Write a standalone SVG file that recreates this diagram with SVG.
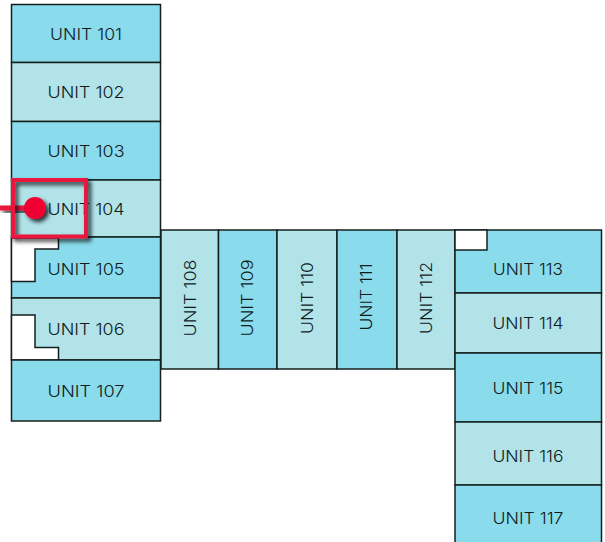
<svg xmlns="http://www.w3.org/2000/svg" width="605" height="542" viewBox="0 0 605 542">
<style>
.a{fill:#8adcec}.b{fill:#b1e3e9}
.u{stroke:#14201f;stroke-width:1.5}
.n{fill:#fff;stroke:#14201f;stroke-width:1.5}
text{font-family:"Inter","Liberation Sans",sans-serif;font-size:16.5px;font-weight:300;fill:#0f1a1c;text-anchor:middle;dominant-baseline:central}
</style>
<defs>
<filter id="s" x="-30%" y="-30%" width="170%" height="170%"><feDropShadow dx="3" dy="3" stdDeviation="2" flood-color="#000" flood-opacity="0.8"/></filter>
</defs>
<g id="unit-101"><rect class="a u" x="11.5" y="4.5" width="149" height="58"/><text x="86" y="34" textLength="72" lengthAdjust="spacingAndGlyphs">UNIT 101</text></g>
<g id="unit-102"><rect class="b u" x="11.5" y="62.5" width="149" height="59"/><text x="86" y="92" textLength="77" lengthAdjust="spacingAndGlyphs">UNIT 102</text></g>
<g id="unit-103"><rect class="a u" x="11.5" y="121.5" width="149" height="58.5"/><text x="86" y="151" textLength="77" lengthAdjust="spacingAndGlyphs">UNIT 103</text></g>
<g id="unit-104"><rect class="b u" x="11.5" y="180" width="149" height="57"/><text x="86" y="209" textLength="77" lengthAdjust="spacingAndGlyphs">UNIT 104</text></g>
<g id="unit-105"><rect class="a u" x="11.5" y="237" width="149" height="61"/><path class="n" d="M11.5 238H58.500V249H35V281.500H11.500Z"/><text x="86" y="269" textLength="77" lengthAdjust="spacingAndGlyphs">UNIT 105</text></g>
<g id="unit-106"><rect class="b u" x="11.5" y="298" width="149" height="62"/><path class="n" d="M11.5 315H35V347.500H58.500V360H11.500Z"/><text x="86" y="329" textLength="77" lengthAdjust="spacingAndGlyphs">UNIT 106</text></g>
<g id="unit-107"><rect class="a u" x="11.5" y="360" width="149" height="61"/><text x="86" y="391" textLength="77" lengthAdjust="spacingAndGlyphs">UNIT 107</text></g>
<g id="unit-108"><rect class="b u" x="161" y="230" width="57.5" height="139"/><text transform="translate(189.500 298) rotate(-90)" textLength="77" lengthAdjust="spacingAndGlyphs">UNIT 108</text></g>
<g id="unit-109"><rect class="a u" x="218.500" y="230" width="58.500" height="139"/><text transform="translate(247 298) rotate(-90)" textLength="77" lengthAdjust="spacingAndGlyphs">UNIT 109</text></g>
<g id="unit-110"><rect class="b u" x="277" y="230" width="60" height="139"/><text transform="translate(306.500 298) rotate(-90)" textLength="72" lengthAdjust="spacingAndGlyphs">UNIT 110</text></g>
<g id="unit-111"><rect class="a u" x="337" y="230" width="60" height="139"/><text transform="translate(365.500 297) rotate(-90)" textLength="67" lengthAdjust="spacingAndGlyphs">UNIT 111</text></g>
<g id="unit-112"><rect class="b u" x="397" y="230" width="58" height="139"/><text transform="translate(425.500 298) rotate(-90)" textLength="72" lengthAdjust="spacingAndGlyphs">UNIT 112</text></g>
<g id="unit-113"><rect class="a u" x="455" y="230" width="146.500" height="63"/><rect class="n" x="455" y="230" width="32" height="20"/><text x="528" y="269" textLength="70" lengthAdjust="spacingAndGlyphs">UNIT 113</text></g>
<g id="unit-114"><rect class="b u" x="455" y="293" width="146.500" height="60"/><text x="528" y="323" textLength="71" lengthAdjust="spacingAndGlyphs">UNIT 114</text></g>
<g id="unit-115"><rect class="a u" x="455" y="353" width="146.500" height="69"/><text x="528" y="388" textLength="71" lengthAdjust="spacingAndGlyphs">UNIT 115</text></g>
<g id="unit-116"><rect class="b u" x="455" y="422" width="146.500" height="63"/><text x="528" y="456" textLength="71" lengthAdjust="spacingAndGlyphs">UNIT 116</text></g>
<g id="unit-117"><rect class="a u" x="455" y="485" width="146.500" height="60"/><text x="528" y="518" textLength="71" lengthAdjust="spacingAndGlyphs">UNIT 117</text></g>
<g id="connectors"><rect x="0" y="205.500" width="35" height="5" fill="#e9123c" filter="url(#s)"/></g>
<g id="marker" filter="url(#s)"><rect x="13" y="180" width="73" height="56.500" fill="none" stroke="#e9123c" stroke-width="4"/><circle cx="35" cy="208" r="11" fill="#f00033"/></g>
</svg>
